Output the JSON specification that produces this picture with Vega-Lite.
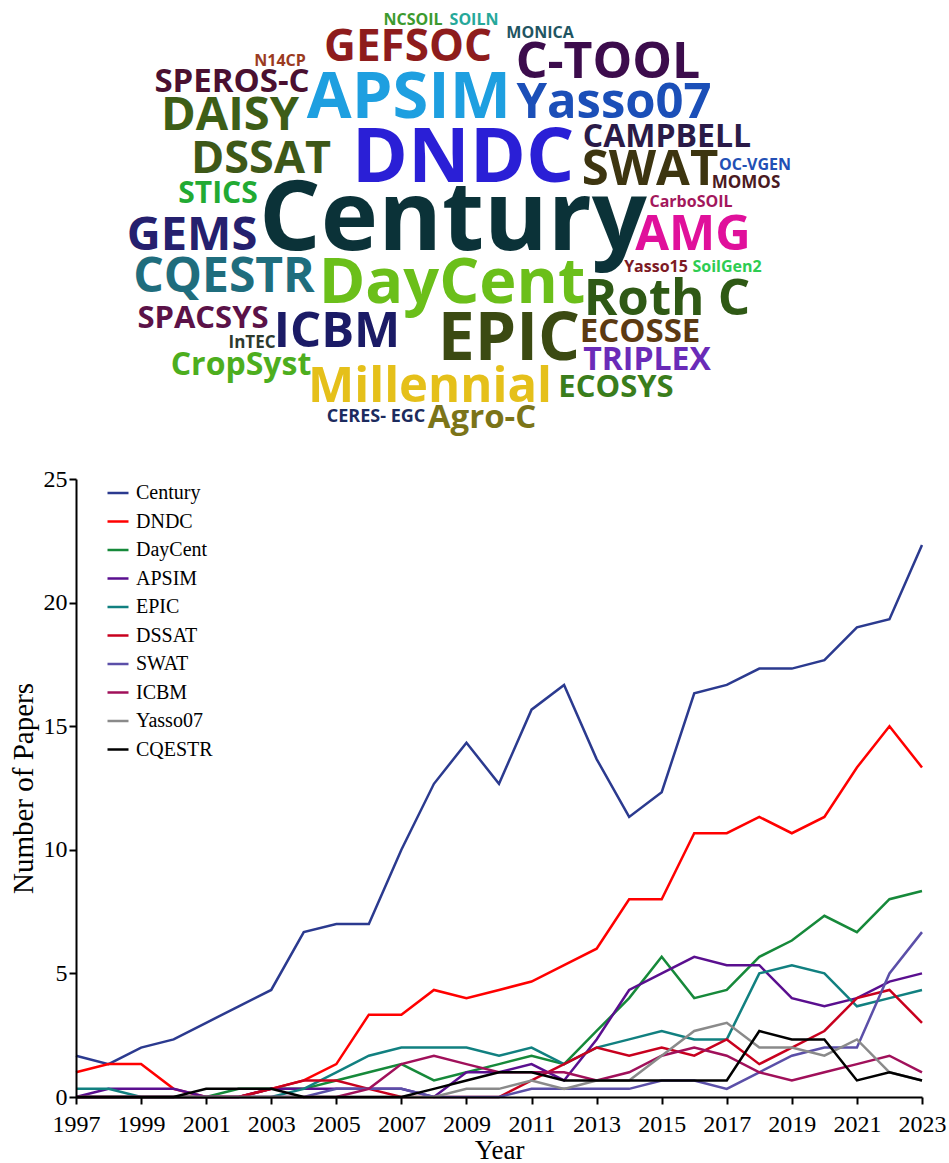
{
"$schema": "https://vega.github.io/schema/vega-lite/v6.json",
"autosize": {"type": "pad"},
"padding": {"left": 9, "top": 0, "right": 0, "bottom": 0},
"background": "white",
"bounds": "flush",
"spacing": 39,
"config": {
  "view": {"stroke": null},
  "font": "Liberation Serif",
  "axis": {"grid": false, "labelFont": "Liberation Serif", "titleFont": "Liberation Serif", "labelColor": "black", "titleColor": "black", "titleFontWeight": "normal", "domainColor": "black", "tickColor": "black"}
},
"resolve": {"scale": {"color": "independent", "size": "independent"}, "legend": {"color": "independent"}},
"vconcat": [
{
  "width": 846,
  "height": 440,
  "data": {"values": [
    {"word": "NCSOIL", "cx": 337, "cy": 25, "freq": 16},
    {"word": "SOILN", "cx": 398, "cy": 25, "freq": 16},
    {"word": "MONICA", "cx": 464, "cy": 38, "freq": 16},
    {"word": "GEFSOC", "cx": 332, "cy": 61, "freq": 44},
    {"word": "N14CP", "cx": 204, "cy": 66, "freq": 16},
    {"word": "SPEROS-C", "cx": 156, "cy": 92, "freq": 33},
    {"word": "APSIM", "cx": 333, "cy": 118, "freq": 65},
    {"word": "C-TOOL", "cx": 532, "cy": 78, "freq": 50},
    {"word": "Yasso07", "cx": 538, "cy": 118, "freq": 49},
    {"word": "DAISY", "cx": 154, "cy": 130, "freq": 47},
    {"word": "DNDC", "cx": 387, "cy": 182, "freq": 76},
    {"word": "CAMPBELL", "cx": 591, "cy": 147, "freq": 32},
    {"word": "DSSAT", "cx": 185, "cy": 173, "freq": 45},
    {"word": "SWAT", "cx": 574, "cy": 185, "freq": 49},
    {"word": "OC-VGEN", "cx": 679, "cy": 170, "freq": 16},
    {"word": "MOMOS", "cx": 670, "cy": 188, "freq": 17},
    {"word": "STICS", "cx": 142, "cy": 203, "freq": 30},
    {"word": "CarboSOIL", "cx": 615, "cy": 207, "freq": 16},
    {"word": "Century", "cx": 377, "cy": 250, "freq": 97},
    {"word": "GEMS", "cx": 116, "cy": 250, "freq": 47},
    {"word": "AMG", "cx": 617, "cy": 250, "freq": 49},
    {"word": "Yasso15", "cx": 580, "cy": 272, "freq": 16},
    {"word": "SoilGen2", "cx": 651, "cy": 272, "freq": 16},
    {"word": "CQESTR", "cx": 148, "cy": 292, "freq": 48},
    {"word": "DayCent", "cx": 376, "cy": 303, "freq": 63},
    {"word": "Roth C", "cx": 591, "cy": 315, "freq": 51},
    {"word": "SPACSYS", "cx": 127, "cy": 328, "freq": 31},
    {"word": "ICBM", "cx": 261, "cy": 347, "freq": 49},
    {"word": "EPIC", "cx": 433, "cy": 360, "freq": 66},
    {"word": "ECOSSE", "cx": 564, "cy": 342, "freq": 33},
    {"word": "InTEC", "cx": 176, "cy": 348, "freq": 17},
    {"word": "TRIPLEX", "cx": 571, "cy": 370, "freq": 32},
    {"word": "CropSyst", "cx": 165, "cy": 375, "freq": 32},
    {"word": "Millennial", "cx": 354, "cy": 402, "freq": 49},
    {"word": "ECOSYS", "cx": 540, "cy": 397, "freq": 31},
    {"word": "CERES- EGC", "cx": 300, "cy": 422, "freq": 18},
    {"word": "Agro-C", "cx": 406, "cy": 428, "freq": 33}
  ]},
  "mark": {"type": "text", "font": "Open Sans", "fontWeight": "bold", "baseline": "alphabetic", "align": "center"},
  "encoding": {
    "x": {"field": "cx", "type": "quantitative", "scale": {"domain": [0, 846], "nice": false, "zero": false}, "axis": null},
    "y": {"field": "cy", "type": "quantitative", "scale": {"domain": [0, 440], "nice": false, "reverse": true}, "axis": null},
    "size": {"field": "freq", "type": "quantitative", "scale": {"type": "linear", "domain": [0, 100], "range": [0, 100]}, "legend": null},
    "text": {"field": "word"},
    "color": {"field": "word", "type": "nominal", "legend": null, "scale": {
      "domain": ["NCSOIL","SOILN","MONICA","GEFSOC","N14CP","SPEROS-C","APSIM","C-TOOL","Yasso07","DAISY","DNDC","CAMPBELL","DSSAT","SWAT","OC-VGEN","MOMOS","STICS","CarboSOIL","Century","GEMS","AMG","Yasso15","SoilGen2","CQESTR","DayCent","Roth C","SPACSYS","ICBM","EPIC","ECOSSE","InTEC","TRIPLEX","CropSyst","Millennial","ECOSYS","CERES- EGC","Agro-C"],
      "range": ["#3c9a2e","#26a89a","#1f5562","#8e1c1c","#9b3b1f","#4a1030","#1e9fe0","#3c0c4c","#1b4fb8","#3d5e17","#2a1fd6","#2b1b48","#3e5818","#3d3510","#2250b5","#4a1a22","#22aa33","#a3175c","#0b3238","#25206e","#e0109b","#7d1a24","#2ecc52","#1f6d7d","#6bbf1a","#2f5915","#5b1248","#1b1b66","#3b4a12","#5c3a12","#2e3a2e","#6a2bb8","#4dae1e","#e5c01a","#3a7d1c","#1c2b5e","#7b7418"]
    }}
  }
},
{
  "width": 846,
  "height": 618,
  "data": {"values": [
{"m":"Century","yr":1997,"n":1.67},{"m":"Century","yr":1998,"n":1.33},{"m":"Century","yr":1999,"n":2},{"m":"Century","yr":2000,"n":2.33},{"m":"Century","yr":2001,"n":3},{"m":"Century","yr":2002,"n":3.67},{"m":"Century","yr":2003,"n":4.33},{"m":"Century","yr":2004,"n":6.67},{"m":"Century","yr":2005,"n":7},{"m":"Century","yr":2006,"n":7},{"m":"Century","yr":2007,"n":10},{"m":"Century","yr":2008,"n":12.67},{"m":"Century","yr":2009,"n":14.33},{"m":"Century","yr":2010,"n":12.67},{"m":"Century","yr":2011,"n":15.67},{"m":"Century","yr":2012,"n":16.67},{"m":"Century","yr":2013,"n":13.67},{"m":"Century","yr":2014,"n":11.33},{"m":"Century","yr":2015,"n":12.33},{"m":"Century","yr":2016,"n":16.33},{"m":"Century","yr":2017,"n":16.67},{"m":"Century","yr":2018,"n":17.33},{"m":"Century","yr":2019,"n":17.33},{"m":"Century","yr":2020,"n":17.67},{"m":"Century","yr":2021,"n":19},{"m":"Century","yr":2022,"n":19.33},{"m":"Century","yr":2023,"n":22.33},
{"m":"DNDC","yr":1997,"n":1},{"m":"DNDC","yr":1998,"n":1.33},{"m":"DNDC","yr":1999,"n":1.33},{"m":"DNDC","yr":2000,"n":0.33},{"m":"DNDC","yr":2001,"n":0},{"m":"DNDC","yr":2002,"n":0},{"m":"DNDC","yr":2003,"n":0.33},{"m":"DNDC","yr":2004,"n":0.67},{"m":"DNDC","yr":2005,"n":1.33},{"m":"DNDC","yr":2006,"n":3.33},{"m":"DNDC","yr":2007,"n":3.33},{"m":"DNDC","yr":2008,"n":4.33},{"m":"DNDC","yr":2009,"n":4},{"m":"DNDC","yr":2010,"n":4.33},{"m":"DNDC","yr":2011,"n":4.67},{"m":"DNDC","yr":2012,"n":5.33},{"m":"DNDC","yr":2013,"n":6},{"m":"DNDC","yr":2014,"n":8},{"m":"DNDC","yr":2015,"n":8},{"m":"DNDC","yr":2016,"n":10.67},{"m":"DNDC","yr":2017,"n":10.67},{"m":"DNDC","yr":2018,"n":11.33},{"m":"DNDC","yr":2019,"n":10.67},{"m":"DNDC","yr":2020,"n":11.33},{"m":"DNDC","yr":2021,"n":13.33},{"m":"DNDC","yr":2022,"n":15},{"m":"DNDC","yr":2023,"n":13.33},
{"m":"DayCent","yr":1997,"n":0},{"m":"DayCent","yr":1998,"n":0},{"m":"DayCent","yr":1999,"n":0},{"m":"DayCent","yr":2000,"n":0},{"m":"DayCent","yr":2001,"n":0},{"m":"DayCent","yr":2002,"n":0.33},{"m":"DayCent","yr":2003,"n":0.33},{"m":"DayCent","yr":2004,"n":0.33},{"m":"DayCent","yr":2005,"n":0.67},{"m":"DayCent","yr":2006,"n":1},{"m":"DayCent","yr":2007,"n":1.33},{"m":"DayCent","yr":2008,"n":0.67},{"m":"DayCent","yr":2009,"n":1},{"m":"DayCent","yr":2010,"n":1.33},{"m":"DayCent","yr":2011,"n":1.67},{"m":"DayCent","yr":2012,"n":1.33},{"m":"DayCent","yr":2013,"n":2.67},{"m":"DayCent","yr":2014,"n":4},{"m":"DayCent","yr":2015,"n":5.67},{"m":"DayCent","yr":2016,"n":4},{"m":"DayCent","yr":2017,"n":4.33},{"m":"DayCent","yr":2018,"n":5.67},{"m":"DayCent","yr":2019,"n":6.33},{"m":"DayCent","yr":2020,"n":7.33},{"m":"DayCent","yr":2021,"n":6.67},{"m":"DayCent","yr":2022,"n":8},{"m":"DayCent","yr":2023,"n":8.33},
{"m":"APSIM","yr":1997,"n":0},{"m":"APSIM","yr":1998,"n":0.33},{"m":"APSIM","yr":1999,"n":0.33},{"m":"APSIM","yr":2000,"n":0.33},{"m":"APSIM","yr":2001,"n":0},{"m":"APSIM","yr":2002,"n":0},{"m":"APSIM","yr":2003,"n":0.33},{"m":"APSIM","yr":2004,"n":0.33},{"m":"APSIM","yr":2005,"n":0.33},{"m":"APSIM","yr":2006,"n":0.33},{"m":"APSIM","yr":2007,"n":0.33},{"m":"APSIM","yr":2008,"n":0},{"m":"APSIM","yr":2009,"n":1},{"m":"APSIM","yr":2010,"n":1},{"m":"APSIM","yr":2011,"n":1.33},{"m":"APSIM","yr":2012,"n":0.67},{"m":"APSIM","yr":2013,"n":2.33},{"m":"APSIM","yr":2014,"n":4.33},{"m":"APSIM","yr":2015,"n":5},{"m":"APSIM","yr":2016,"n":5.67},{"m":"APSIM","yr":2017,"n":5.33},{"m":"APSIM","yr":2018,"n":5.33},{"m":"APSIM","yr":2019,"n":4},{"m":"APSIM","yr":2020,"n":3.67},{"m":"APSIM","yr":2021,"n":4},{"m":"APSIM","yr":2022,"n":4.67},{"m":"APSIM","yr":2023,"n":5},
{"m":"EPIC","yr":1997,"n":0.33},{"m":"EPIC","yr":1998,"n":0.33},{"m":"EPIC","yr":1999,"n":0},{"m":"EPIC","yr":2000,"n":0},{"m":"EPIC","yr":2001,"n":0},{"m":"EPIC","yr":2002,"n":0},{"m":"EPIC","yr":2003,"n":0},{"m":"EPIC","yr":2004,"n":0.33},{"m":"EPIC","yr":2005,"n":1},{"m":"EPIC","yr":2006,"n":1.67},{"m":"EPIC","yr":2007,"n":2},{"m":"EPIC","yr":2008,"n":2},{"m":"EPIC","yr":2009,"n":2},{"m":"EPIC","yr":2010,"n":1.67},{"m":"EPIC","yr":2011,"n":2},{"m":"EPIC","yr":2012,"n":1.33},{"m":"EPIC","yr":2013,"n":2},{"m":"EPIC","yr":2014,"n":2.33},{"m":"EPIC","yr":2015,"n":2.67},{"m":"EPIC","yr":2016,"n":2.33},{"m":"EPIC","yr":2017,"n":2.33},{"m":"EPIC","yr":2018,"n":5},{"m":"EPIC","yr":2019,"n":5.33},{"m":"EPIC","yr":2020,"n":5},{"m":"EPIC","yr":2021,"n":3.67},{"m":"EPIC","yr":2022,"n":4},{"m":"EPIC","yr":2023,"n":4.33},
{"m":"DSSAT","yr":1997,"n":0},{"m":"DSSAT","yr":1998,"n":0},{"m":"DSSAT","yr":1999,"n":0},{"m":"DSSAT","yr":2000,"n":0},{"m":"DSSAT","yr":2001,"n":0},{"m":"DSSAT","yr":2002,"n":0},{"m":"DSSAT","yr":2003,"n":0.33},{"m":"DSSAT","yr":2004,"n":0.67},{"m":"DSSAT","yr":2005,"n":0.67},{"m":"DSSAT","yr":2006,"n":0.33},{"m":"DSSAT","yr":2007,"n":0},{"m":"DSSAT","yr":2008,"n":0},{"m":"DSSAT","yr":2009,"n":0},{"m":"DSSAT","yr":2010,"n":0},{"m":"DSSAT","yr":2011,"n":0.67},{"m":"DSSAT","yr":2012,"n":1.33},{"m":"DSSAT","yr":2013,"n":2},{"m":"DSSAT","yr":2014,"n":1.67},{"m":"DSSAT","yr":2015,"n":2},{"m":"DSSAT","yr":2016,"n":1.67},{"m":"DSSAT","yr":2017,"n":2.33},{"m":"DSSAT","yr":2018,"n":1.33},{"m":"DSSAT","yr":2019,"n":2},{"m":"DSSAT","yr":2020,"n":2.67},{"m":"DSSAT","yr":2021,"n":4},{"m":"DSSAT","yr":2022,"n":4.33},{"m":"DSSAT","yr":2023,"n":3},
{"m":"SWAT","yr":1997,"n":0},{"m":"SWAT","yr":1998,"n":0},{"m":"SWAT","yr":1999,"n":0},{"m":"SWAT","yr":2000,"n":0},{"m":"SWAT","yr":2001,"n":0},{"m":"SWAT","yr":2002,"n":0},{"m":"SWAT","yr":2003,"n":0},{"m":"SWAT","yr":2004,"n":0},{"m":"SWAT","yr":2005,"n":0.33},{"m":"SWAT","yr":2006,"n":0.33},{"m":"SWAT","yr":2007,"n":0.33},{"m":"SWAT","yr":2008,"n":0},{"m":"SWAT","yr":2009,"n":0},{"m":"SWAT","yr":2010,"n":0},{"m":"SWAT","yr":2011,"n":0.33},{"m":"SWAT","yr":2012,"n":0.33},{"m":"SWAT","yr":2013,"n":0.33},{"m":"SWAT","yr":2014,"n":0.33},{"m":"SWAT","yr":2015,"n":0.67},{"m":"SWAT","yr":2016,"n":0.67},{"m":"SWAT","yr":2017,"n":0.33},{"m":"SWAT","yr":2018,"n":1},{"m":"SWAT","yr":2019,"n":1.67},{"m":"SWAT","yr":2020,"n":2},{"m":"SWAT","yr":2021,"n":2},{"m":"SWAT","yr":2022,"n":5},{"m":"SWAT","yr":2023,"n":6.67},
{"m":"ICBM","yr":1997,"n":0},{"m":"ICBM","yr":1998,"n":0},{"m":"ICBM","yr":1999,"n":0},{"m":"ICBM","yr":2000,"n":0},{"m":"ICBM","yr":2001,"n":0},{"m":"ICBM","yr":2002,"n":0},{"m":"ICBM","yr":2003,"n":0},{"m":"ICBM","yr":2004,"n":0},{"m":"ICBM","yr":2005,"n":0},{"m":"ICBM","yr":2006,"n":0.33},{"m":"ICBM","yr":2007,"n":1.33},{"m":"ICBM","yr":2008,"n":1.67},{"m":"ICBM","yr":2009,"n":1.33},{"m":"ICBM","yr":2010,"n":1},{"m":"ICBM","yr":2011,"n":1},{"m":"ICBM","yr":2012,"n":1},{"m":"ICBM","yr":2013,"n":0.67},{"m":"ICBM","yr":2014,"n":1},{"m":"ICBM","yr":2015,"n":1.67},{"m":"ICBM","yr":2016,"n":2},{"m":"ICBM","yr":2017,"n":1.67},{"m":"ICBM","yr":2018,"n":1},{"m":"ICBM","yr":2019,"n":0.67},{"m":"ICBM","yr":2020,"n":1},{"m":"ICBM","yr":2021,"n":1.33},{"m":"ICBM","yr":2022,"n":1.67},{"m":"ICBM","yr":2023,"n":1},
{"m":"Yasso07","yr":1997,"n":0},{"m":"Yasso07","yr":1998,"n":0},{"m":"Yasso07","yr":1999,"n":0},{"m":"Yasso07","yr":2000,"n":0},{"m":"Yasso07","yr":2001,"n":0},{"m":"Yasso07","yr":2002,"n":0},{"m":"Yasso07","yr":2003,"n":0},{"m":"Yasso07","yr":2004,"n":0},{"m":"Yasso07","yr":2005,"n":0},{"m":"Yasso07","yr":2006,"n":0},{"m":"Yasso07","yr":2007,"n":0},{"m":"Yasso07","yr":2008,"n":0},{"m":"Yasso07","yr":2009,"n":0.33},{"m":"Yasso07","yr":2010,"n":0.33},{"m":"Yasso07","yr":2011,"n":0.67},{"m":"Yasso07","yr":2012,"n":0.33},{"m":"Yasso07","yr":2013,"n":0.67},{"m":"Yasso07","yr":2014,"n":0.67},{"m":"Yasso07","yr":2015,"n":1.67},{"m":"Yasso07","yr":2016,"n":2.67},{"m":"Yasso07","yr":2017,"n":3},{"m":"Yasso07","yr":2018,"n":2},{"m":"Yasso07","yr":2019,"n":2},{"m":"Yasso07","yr":2020,"n":1.67},{"m":"Yasso07","yr":2021,"n":2.33},{"m":"Yasso07","yr":2022,"n":1},{"m":"Yasso07","yr":2023,"n":0.67},
{"m":"CQESTR","yr":1997,"n":0},{"m":"CQESTR","yr":1998,"n":0},{"m":"CQESTR","yr":1999,"n":0},{"m":"CQESTR","yr":2000,"n":0},{"m":"CQESTR","yr":2001,"n":0.33},{"m":"CQESTR","yr":2002,"n":0.33},{"m":"CQESTR","yr":2003,"n":0.33},{"m":"CQESTR","yr":2004,"n":0},{"m":"CQESTR","yr":2005,"n":0},{"m":"CQESTR","yr":2006,"n":0},{"m":"CQESTR","yr":2007,"n":0},{"m":"CQESTR","yr":2008,"n":0.33},{"m":"CQESTR","yr":2009,"n":0.67},{"m":"CQESTR","yr":2010,"n":1},{"m":"CQESTR","yr":2011,"n":1},{"m":"CQESTR","yr":2012,"n":0.67},{"m":"CQESTR","yr":2013,"n":0.67},{"m":"CQESTR","yr":2014,"n":0.67},{"m":"CQESTR","yr":2015,"n":0.67},{"m":"CQESTR","yr":2016,"n":0.67},{"m":"CQESTR","yr":2017,"n":0.67},{"m":"CQESTR","yr":2018,"n":2.67},{"m":"CQESTR","yr":2019,"n":2.33},{"m":"CQESTR","yr":2020,"n":2.33},{"m":"CQESTR","yr":2021,"n":0.67},{"m":"CQESTR","yr":2022,"n":1},{"m":"CQESTR","yr":2023,"n":0.67}
  ]},
  "mark": {"type": "line", "strokeWidth": 2.5},
  "encoding": {
    "x": {"field": "yr", "type": "quantitative", "title": "Year",
      "scale": {"domain": [1997, 2023], "nice": false, "zero": false},
      "axis": {"values": [1997,1999,2001,2003,2005,2007,2009,2011,2013,2015,2017,2019,2021,2023], "format": "d", "labelFontSize": 24, "titleFontSize": 27, "tickSize": 7, "tickWidth": 2, "domainWidth": 2, "labelPadding": 8, "titlePadding": 1, "labelOverlap": false, "labelFlush": false, "zindex": 1}},
    "y": {"field": "n", "type": "quantitative", "title": "Number of Papers",
      "scale": {"domain": [0, 25], "nice": false},
      "axis": {"values": [0,5,10,15,20,25], "labelFontSize": 24, "titleFontSize": 29, "tickSize": 7, "tickWidth": 2, "domainWidth": 2, "labelPadding": 2, "titleX": -38, "labelFlush": false, "zindex": 1}},
    "color": {"field": "m", "type": "nominal",
      "scale": {"domain": ["Century","DNDC","DayCent","APSIM","EPIC","DSSAT","SWAT","ICBM","Yasso07","CQESTR"],
                "range": ["#2b3a8f","#ff0000","#16893a","#5a0f8f","#118080","#c8001e","#5b4fa8","#a0105a","#8a8a8a","#000000"]},
      "legend": {"orient": "none", "legendX": 30, "legendY": 2, "title": null, "padding": 0, "labelFont": "Liberation Serif", "labelFontSize": 20, "labelColor": "black", "symbolType": "stroke", "symbolSize": 441, "symbolStrokeWidth": 2.5, "rowPadding": 6.5, "labelOffset": 6}}
  }
}
]
}
